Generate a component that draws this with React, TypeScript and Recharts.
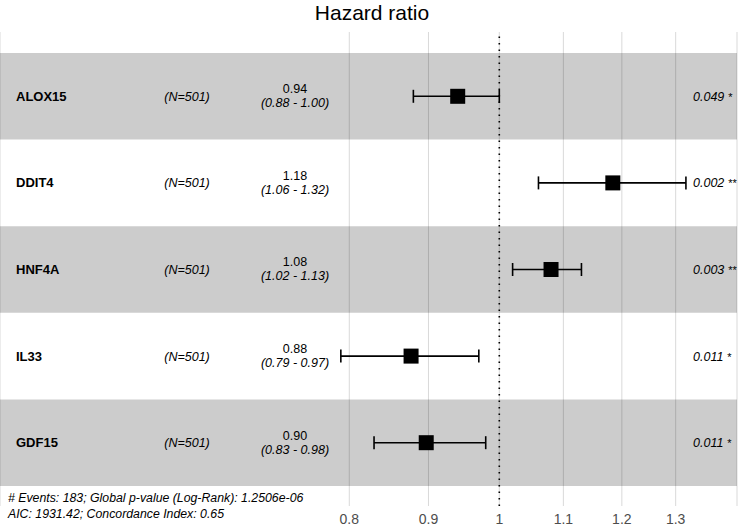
import {
  CartesianGrid,
  ComposedChart,
  ErrorBar,
  ReferenceArea,
  ReferenceLine,
  Scatter,
  XAxis,
  YAxis,
} from "recharts";

const genes = ["ALOX15", "DDIT4", "HNF4A", "IL33", "GDF15"];
const patients = [501, 501, 501, 501, 501];
const hazardRatio = [0.94, 1.184, 1.08, 0.877, 0.897];
const ciLower = [0.88, 1.06, 1.02, 0.79, 0.83];
const ciUpper = [1.0, 1.32, 1.13, 0.97, 0.98];
const hrLabels = ["0.94", "1.18", "1.08", "0.88", "0.90"];
const ciLabels = ["(0.88 - 1.00)", "(1.06 - 1.32)", "(1.02 - 1.13)", "(0.79 - 0.97)", "(0.83 - 0.98)"];
const pValues = ["0.049", "0.002", "0.003", "0.011", "0.011"];
const stars = ["*", "**", "**", "*", "*"];
const xTicks = [0.8, 0.9, 1, 1.1, 1.2, 1.3];

const footerLines = [
  "# Events: 183; Global p-value (Log-Rank): 1.2506e-06",
  "AIC: 1931.42; Concordance Index: 0.65",
];

const FONT = "'Liberation Sans', Arial, sans-serif";

const rows = genes.map((gene, i) => ({
  row: i + 1,
  gene,
  n: patients[i],
  hr: hazardRatio[i],
  err: [hazardRatio[i] - ciLower[i], ciUpper[i] - hazardRatio[i]],
  hrLabel: hrLabels[i],
  ciLabel: ciLabels[i],
  p: pValues[i],
  stars: stars[i],
}));

// square marker plus the text columns for that row
const RowShape = (props: any) => {
  const { cx, cy, payload } = props;
  return (
    <g fontFamily={FONT}>
      <rect x={cx - 7.5} y={cy - 7.5} width={15} height={15} fill="#000" />
      <text x={16} y={cy + 4.5} fontSize={13} fontWeight="bold" fill="#000">
        {payload.gene}
      </text>
      <text x={187} y={cy + 4.5} fontSize={12.5} fontStyle="italic" textAnchor="middle" fill="#000">
        (N={payload.n})
      </text>
      <text x={295} y={cy - 3} fontSize={12.5} textAnchor="middle" fill="#000">
        {payload.hrLabel}
      </text>
      <text x={295} y={cy + 11} fontSize={12.5} fontStyle="italic" textAnchor="middle" fill="#000">
        {payload.ciLabel}
      </text>
      <text x={693} y={cy + 4.5} fontSize={12.5} fill="#000">
        <tspan fontStyle="italic">{payload.p}</tspan>
        <tspan dx={4} fontSize={11}>{payload.stars}</tspan>
      </text>
    </g>
  );
};

export default function App() {
  return (
    <div style={{ position: "absolute", left: 0, top: 0, width: 745, height: 528, background: "#fff" }}>
      <ComposedChart
        width={745}
        height={528}
        data={rows}
        margin={{ top: 32, right: 8, bottom: 0, left: 0 }}
      >
        <CartesianGrid horizontal={false} stroke="#d9d9d9" />
        {rows
          .filter((r) => r.row % 2 === 1)
          .map((r) => (
            <ReferenceArea
              key={r.gene}
              y1={r.row - 0.5}
              y2={r.row + 0.5}
              fill="#000"
              fillOpacity={0.2}
              stroke="none"
              ifOverflow="visible"
            />
          ))}
        <XAxis
          type="number"
          dataKey="hr"
          scale="log"
          domain={[0.4758, 1.4242]}
          allowDataOverflow
          ticks={xTicks}
          tickFormatter={(v) => String(v)}
          axisLine={false}
          tickLine={false}
          tickMargin={2}
          height={22}
          tick={{ fill: "#4d4d4d", fontSize: 14, fontFamily: FONT }}
        />
        <YAxis type="number" dataKey="row" domain={[0.2575, 5.731]} reversed allowDataOverflow hide />
        <ReferenceLine x={1} stroke="#000" strokeWidth={1.6} strokeDasharray="1.6 4.9" />
        <Scatter dataKey="row" shape={RowShape} isAnimationActive={false}>
          <ErrorBar dataKey="err" direction="x" width={6.5} stroke="#000" strokeWidth={1.6} isAnimationActive={false} />
        </Scatter>
      </ComposedChart>
      <svg
        width={745}
        height={528}
        style={{ position: "absolute", left: 0, top: 0, pointerEvents: "none" }}
        fontFamily={FONT}
      >
        <text x={372} y={20} fontSize={21} textAnchor="middle" fill="#000">
          Hazard ratio
        </text>
        {footerLines.map((line, i) => (
          <text key={i} x={8} y={502 + i * 16} fontSize={12.3} fontStyle="italic" fill="#000">
            {line}
          </text>
        ))}
      </svg>
    </div>
  );
}
